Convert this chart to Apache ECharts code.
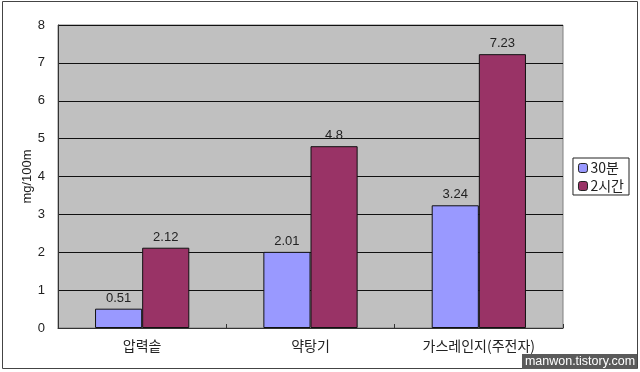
<!DOCTYPE html>
<html><head><meta charset="utf-8">
<script src="https://cdn.jsdelivr.net/npm/echarts@6/dist/echarts.min.js"></script>
<style>html,body{margin:0;padding:0;background:#fff}#c{width:640px;height:372px}</style>
</head><body><div id="c"></div>
<script>
const categories = ['압력솥', '약탕기', '가스레인지(주전자)'];
const seriesNames = ['30분', '2시간'];
const values30 = [0.51, 2.01, 3.24];
const values2h = [2.12, 4.8, 7.23];
const yTicks = [0, 1, 2, 3, 4, 5, 6, 7, 8];

const FONT = '"Noto Sans CJK KR", "Liberation Sans", sans-serif';
const chart = echarts.init(document.getElementById('c'), null, {renderer: 'canvas'});
const labelCfg = {show: true, position: 'top', distance: 4, color: '#222', fontSize: 13, fontFamily: '"Liberation Sans", sans-serif'};
chart.setOption({
  animation: false,
  backgroundColor: '#fff',
  grid: {left: 58, right: 77, top: 25, bottom: 44, show: true, backgroundColor: '#c0c0c0', borderColor: '#808080', borderWidth: 1},
  legend: {
    orient: 'vertical', right: 11, top: 158, itemWidth: 9, itemHeight: 9, itemGap: 4,
    borderColor: '#222', borderWidth: 1, padding: [3, 5, 2, 5], backgroundColor: '#fff',
    textStyle: {fontSize: 14, color: '#222', fontFamily: FONT, padding: [0, 0, 0, -2]},
    data: seriesNames.map(n => ({name: n, itemStyle: {borderColor: '#222', borderWidth: 1}}))
  },
  xAxis: {
    type: 'category', data: categories,
    axisLine: {show: true, lineStyle: {color: '#333'}},
    axisTick: {show: true, inside: true, length: 4, lineStyle: {color: '#333'}},
    axisLabel: {color: '#222', fontSize: 14, margin: 11, fontFamily: FONT},
    splitLine: {show: false}
  },
  yAxis: {
    type: 'value', min: 0, max: 8, interval: 1,
    name: 'mg/100m', nameLocation: 'middle', nameGap: 24, nameRotate: 90, nameMoveOverlap: false,
    nameTextStyle: {fontSize: 13, color: '#222', fontFamily: '"Liberation Sans", sans-serif'},
    axisLine: {show: true, lineStyle: {color: '#333'}},
    axisTick: {show: false},
    axisLabel: {color: '#222', fontSize: 13, margin: 13, fontFamily: '"Liberation Sans", sans-serif',
      formatter: v => yTicks.includes(v) ? String(v) : ''},
    splitLine: {show: true, lineStyle: {color: '#111', width: 1}}
  },
  series: [
    {name: seriesNames[0], type: 'bar', data: values30, barGap: '0%', barCategoryGap: '44%',
     itemStyle: {color: '#9999ff', borderColor: '#111', borderWidth: 1}, label: labelCfg},
    {name: seriesNames[1], type: 'bar', data: values2h, barGap: '0%', barCategoryGap: '44%',
     itemStyle: {color: '#993366', borderColor: '#111', borderWidth: 1}, label: labelCfg}
  ],
  graphic: [
    {type: 'rect', shape: {x: 2.5, y: 1.5, width: 635, height: 367}, style: {fill: 'none', stroke: '#444', lineWidth: 1}, silent: true},
    {type: 'rect', shape: {x: 522, y: 354, width: 115, height: 15}, style: {fill: '#5a5a5a'}, silent: true},
    {type: 'text', x: 580, y: 362, style: {text: 'manwon.tistory.com', fill: '#fff', fontSize: 12.5, fontFamily: '"Liberation Sans", sans-serif', align: 'center', verticalAlign: 'middle'}, silent: true}
  ]
});
</script></body></html>
